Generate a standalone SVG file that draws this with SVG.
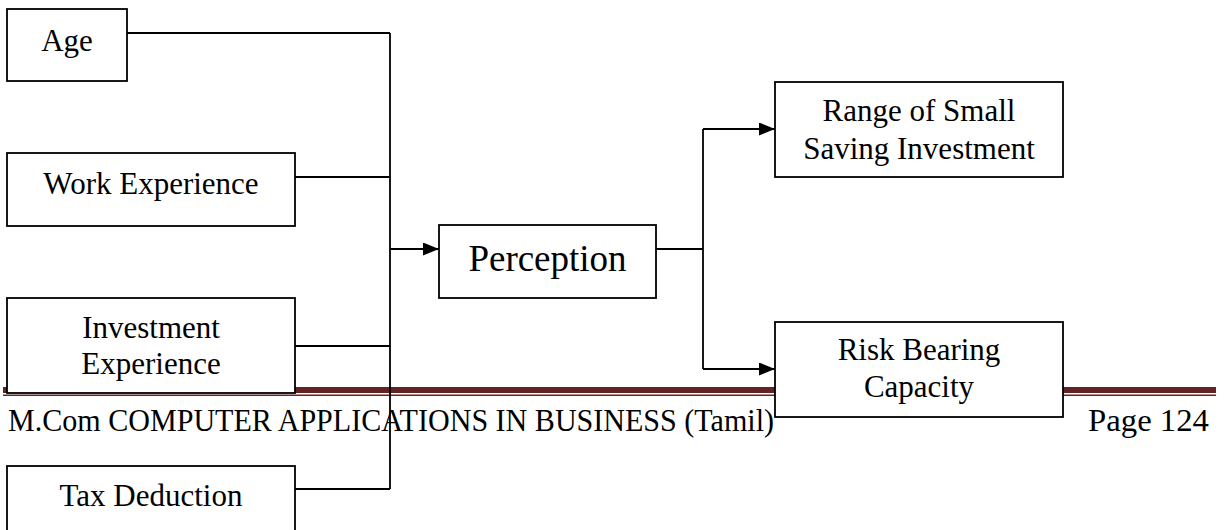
<svg xmlns="http://www.w3.org/2000/svg" width="1226" height="530" viewBox="0 0 1226 530">
  <style>
    .box { fill: #ffffff; stroke: #000000; stroke-width: 1.8; }
    .lbl { font-family: "Liberation Serif", "Times New Roman", serif; font-size: 31px; fill: #000000; text-anchor: middle; }
    .big { font-size: 37px; }
    .wire { fill: none; stroke: #000000; stroke-width: 1.8; }
    .foot { font-family: "Liberation Serif", "Times New Roman", serif; font-size: 32px; fill: #000000; }
  </style>
  <defs>
    <marker id="arrow" viewBox="0 0 16 13" refX="16" refY="6.5" markerWidth="16" markerHeight="13" markerUnits="userSpaceOnUse" orient="auto">
      <path d="M0,0 L16,6.5 L0,13 z" fill="#000000"/>
    </marker>
  </defs>

  <rect width="1226" height="530" fill="#ffffff"/>

  <!-- page footer: double rule and running title -->
  <g id="footer">
    <rect x="3" y="387" width="1213" height="6" fill="#622423"/>
    <rect x="3" y="394.5" width="1213" height="1.5" fill="#622423"/>
    <text class="foot" x="8" y="431" textLength="766" lengthAdjust="spacingAndGlyphs">M.Com COMPUTER APPLICATIONS IN BUSINESS (Tamil)</text>
    <text class="foot" x="1088" y="431" textLength="121" lengthAdjust="spacingAndGlyphs">Page 124</text>
  </g>

  <!-- connectors -->
  <g id="connectors">
    <path class="wire" d="M127,33 H390 M295,177 H390 M295,346 H390 M295,489 H390 M390,33 V489"/>
    <path class="wire" d="M390,249 H439" marker-end="url(#arrow)"/>
    <path class="wire" d="M656,249 H703 M703,129 V369"/>
    <path class="wire" d="M703,129 H775" marker-end="url(#arrow)"/>
    <path class="wire" d="M703,369 H775" marker-end="url(#arrow)"/>
  </g>

  <g id="age">
    <rect class="box" x="7" y="9" width="120" height="72"/>
    <text class="lbl" x="67" y="51">Age</text>
  </g>

  <g id="work-experience">
    <rect class="box" x="7" y="153" width="288" height="73"/>
    <text class="lbl" x="151" y="194">Work Experience</text>
  </g>

  <g id="investment-experience">
    <rect class="box" x="7" y="298" width="288" height="95"/>
    <text class="lbl" x="151" y="338">Investment</text>
    <text class="lbl" x="151" y="374">Experience</text>
  </g>

  <g id="tax-deduction">
    <rect class="box" x="7" y="466" width="288" height="80"/>
    <text class="lbl" x="151" y="506">Tax Deduction</text>
  </g>

  <g id="perception">
    <rect class="box" x="439" y="225" width="217" height="73"/>
    <text class="lbl big" x="547.5" y="271">Perception</text>
  </g>

  <g id="range-of-small-saving">
    <rect class="box" x="775" y="82" width="288" height="95"/>
    <text class="lbl" x="919" y="121">Range of Small</text>
    <text class="lbl" x="919" y="159">Saving Investment</text>
  </g>

  <g id="risk-bearing-capacity">
    <rect class="box" x="775" y="322" width="288" height="95"/>
    <text class="lbl" x="919" y="360">Risk Bearing</text>
    <text class="lbl" x="919" y="397">Capacity</text>
  </g>
</svg>
